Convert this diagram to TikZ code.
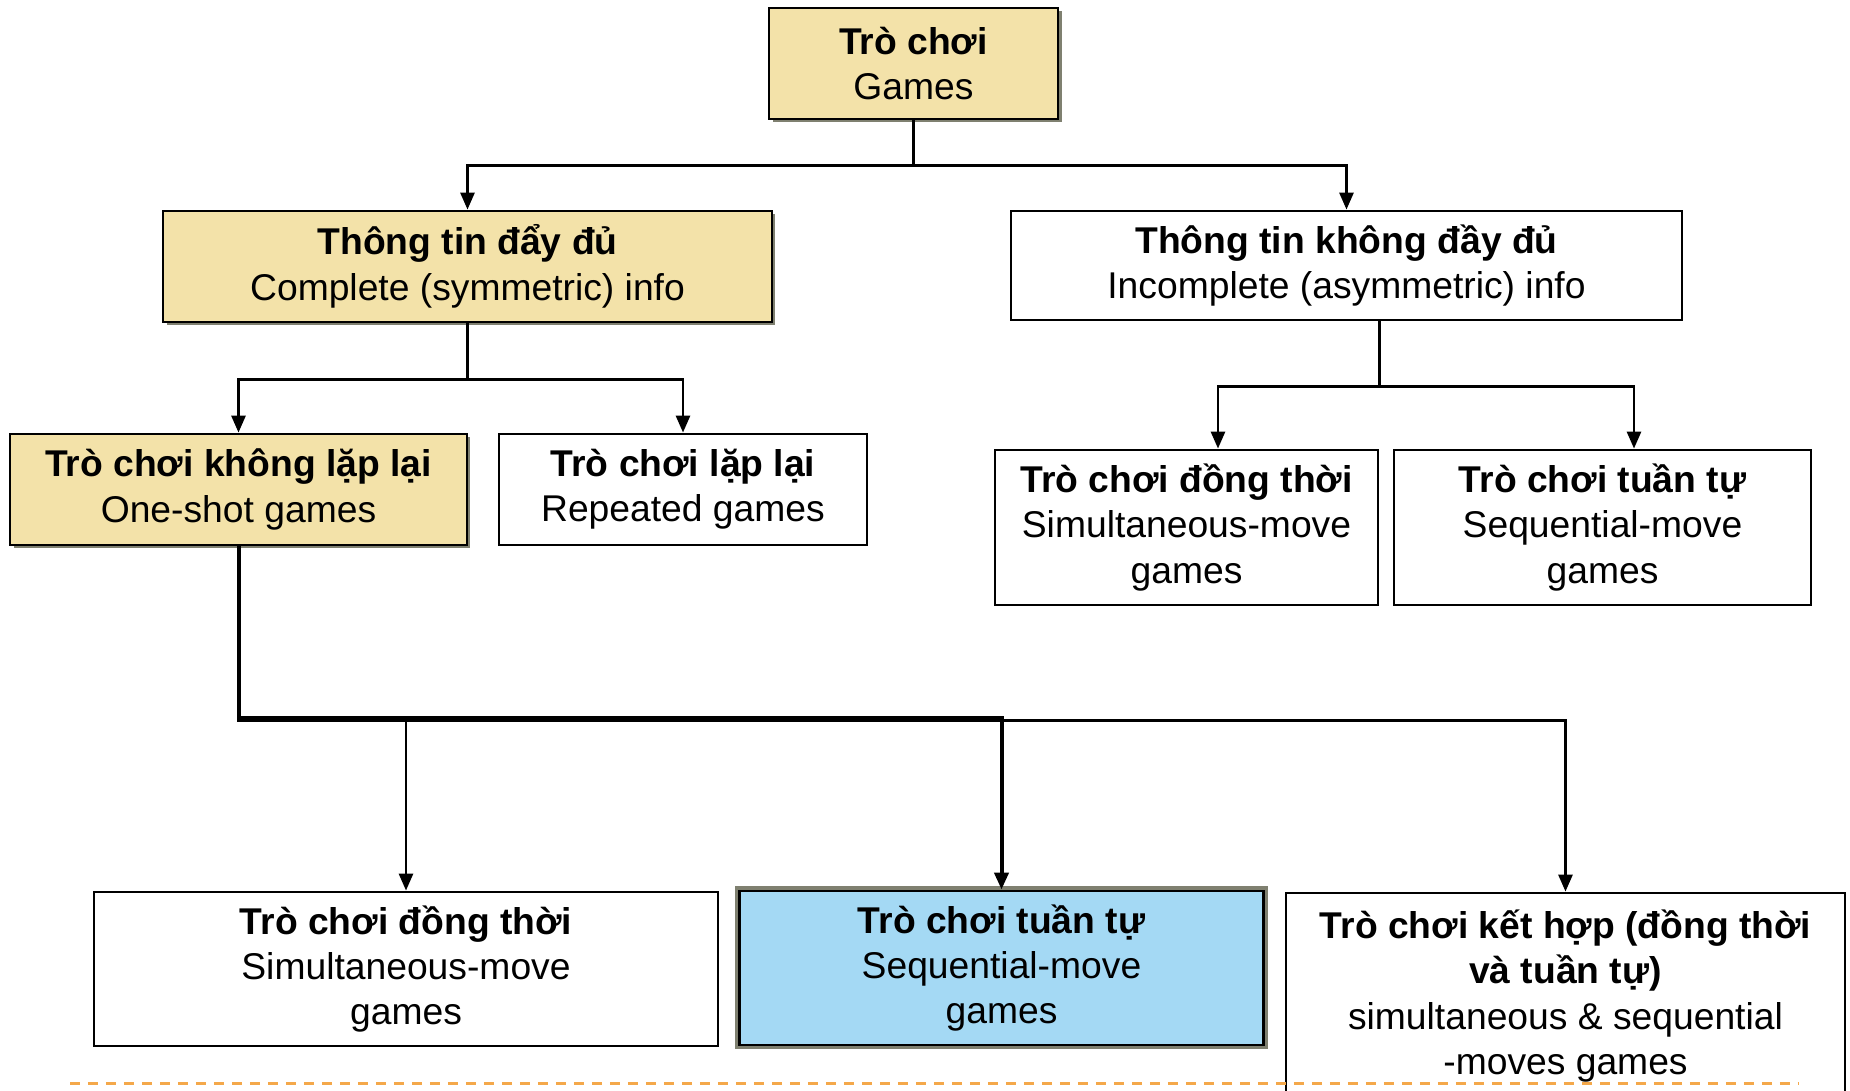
\documentclass[tikz,border=0pt]{standalone}
\usepackage{fontspec}
\setmainfont{Liberation Sans}
\usetikzlibrary{arrows.meta,shadows}
\definecolor{wheatbox}{HTML}{F3E2A9}
\definecolor{bluebox}{HTML}{A4D9F4}
\definecolor{shadowc}{HTML}{7F8070}
\definecolor{dashor}{HTML}{F4A84A}
\tikzset{
  box/.style={draw=black, line width=0.28mm, rectangle, align=center, inner sep=0pt,
    font=\fontsize{10.6}{12.9}\selectfont},
  wheatb/.style={box, fill=wheatbox, drop shadow={shadow xshift=0.35mm, shadow yshift=-0.35mm, fill=shadowc, opacity=1}},
  whiteb/.style={box, fill=white},
  blueb/.style={box, fill=bluebox, preaction={draw=shadowc, line width=0.9mm}},
  conn/.style={draw=black, line width=0.28mm, -{Triangle[length=1.7mm,width=1.4mm]}},
}
\begin{document}
\begin{tikzpicture}[x=0.1mm,y=-0.1mm]
\useasboundingbox (0,0) rectangle (1850,1091);
% boxes
\node[wheatb, minimum width=28.9mm, minimum height=11.1mm] (top) at (913.5,63.5) {\textbf{Trò chơi}\\Games};
\node[wheatb, minimum width=60.9mm, minimum height=11.1mm] (ci) at (467.5,266.5) {\textbf{Thông tin đẩy đủ}\\Complete (symmetric) info};
\node[whiteb, minimum width=67.1mm, minimum height=10.9mm] (ii) at (1346.5,265.5) {\textbf{Thông tin không đầy đủ}\\Incomplete (asymmetric) info};
\node[wheatb, minimum width=45.7mm, minimum height=11.1mm] (os) at (238.5,489.5) {\textbf{Trò chơi không lặp lại}\\One-shot games};
\node[whiteb, minimum width=36.8mm, minimum height=11.1mm] (rep) at (683,489.5) {\textbf{Trò chơi lặp lại}\\Repeated games};
\node[whiteb, minimum width=38.3mm, minimum height=15.5mm] (sim2) at (1186.5,527.5) {\textbf{Trò chơi đồng thời}\\Simultaneous-move\\games};
\node[whiteb, minimum width=41.7mm, minimum height=15.5mm] (seq2) at (1602.5,527.5) {\textbf{Trò chơi tuần tự}\\Sequential-move\\games};
\node[whiteb, minimum width=62.4mm, minimum height=15.4mm] (b1) at (406,969) {\textbf{Trò chơi đồng thời}\\Simultaneous-move\\games};
\node[blueb, minimum width=52.4mm, minimum height=15.4mm] (b2) at (1001.5,968) {\textbf{Trò chơi tuần tự}\\Sequential-move\\games};
\node[whiteb, minimum width=55.9mm, minimum height=20.6mm] (b3) at (1565.5,996) {\textbf{Trò chơi kết hợp (đồng thời}\\\textbf{và tuần tự)}\\simultaneous \& sequential\\-moves games};
% connectors
\draw[conn] (top.south) -- ++(0,45) -| (ci.north);
\draw[conn] (top.south) -- ++(0,45) -| (ii.north);
\draw[conn] (ci.south) -- ++(0,56) -| (os.north);
\draw[conn] (ci.south) -- ++(0,56) -| (rep.north);
\draw[conn] (ii.south -| sim2.east) -- ++(0,65) -| ([xshift=3.15mm]sim2.north);
\draw[conn] (ii.south -| sim2.east) -- ++(0,65) -| ([xshift=3.15mm]seq2.north);
\draw[conn] (os.south) -- ++(0,172) -| (b1.north);
\draw[conn, line width=0.4mm] (os.south) -- ++(0,172) -| (b2.north);
\draw[conn] (os.south) -- ++(0,174) -| (b3.north);
% dashed line
\coordinate (dl) at (70,1084);
\coordinate (dr) at (1798,1084);
\draw[dashor, line width=0.3mm, dash pattern=on 1.0mm off 0.8mm] (dl) -- (dr);
\end{tikzpicture}
\end{document}
